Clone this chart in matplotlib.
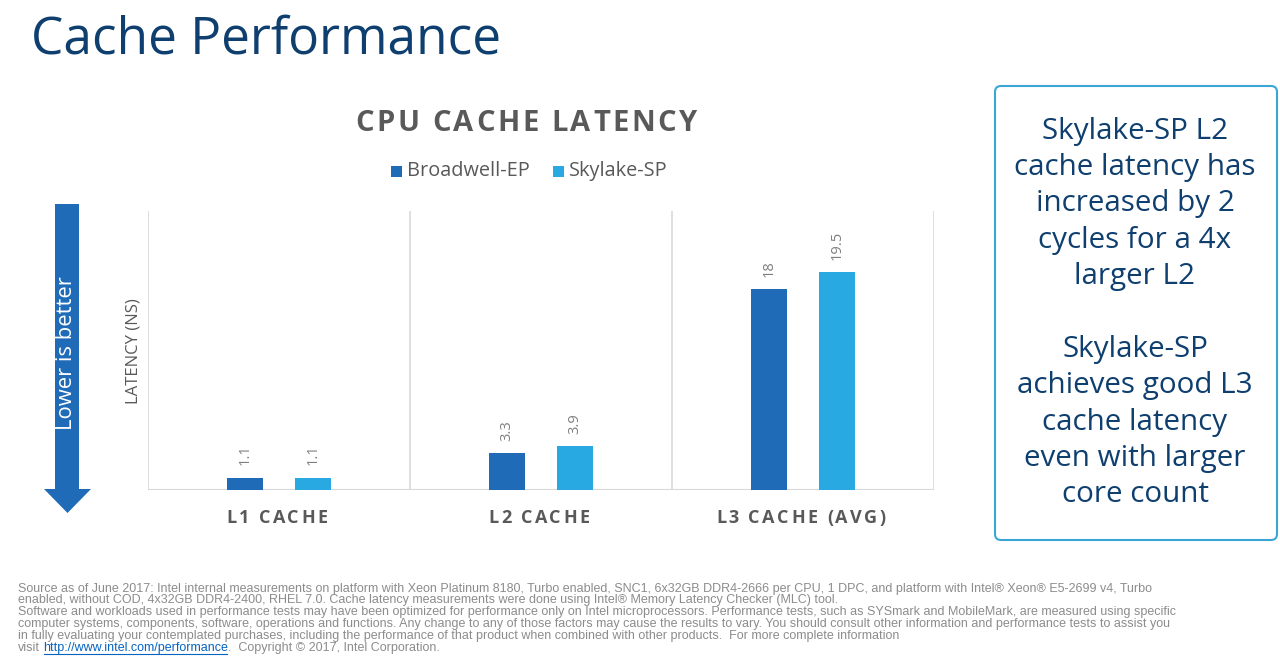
import matplotlib
matplotlib.use('Agg')
import matplotlib.pyplot as plt
from matplotlib.patches import FancyBboxPatch, Rectangle, Polygon
from matplotlib.transforms import IdentityTransform
from matplotlib.font_manager import FontProperties
from matplotlib.textpath import TextToPath

# ---------------- data ----------------
categories = ['L1 CACHE', 'L2 CACHE', 'L3 CACHE (AVG)']
series_names = ['Broadwell-EP', 'Skylake-SP']
broadwell = [1.1, 3.3, 18]
skylake = [1.1, 3.9, 19.5]
broadwell_labels = ['1.1', '3.3', '18']
skylake_labels = ['1.1', '3.9', '19.5']

title = 'Cache Performance'
chart_title = 'CPU CACHE LATENCY'
y_label = 'LATENCY (NS)'
arrow_text = 'Lower is better'
box_lines = ['Skylake-SP L2', 'cache latency has', 'increased by 2', 'cycles for a 4x',
             'larger L2', '', 'Skylake-SP', 'achieves good L3', 'cache latency',
             'even with larger', 'core count']
footnote_lines = [
    'Source as of June 2017: Intel internal measurements on platform with Xeon Platinum 8180, Turbo enabled, SNC1, 6x32GB DDR4-2666 per CPU, 1 DPC, and platform with Intel\u00ae Xeon\u00ae E5-2699 v4, Turbo',
    'enabled, without COD, 4x32GB DDR4-2400, RHEL 7.0. Cache latency measurements were done using Intel\u00ae Memory Latency Checker (MLC) tool.',
    'Software and workloads used in performance tests may have been optimized for performance only on Intel microprocessors. Performance tests, such as SYSmark and MobileMark, are measured using specific',
    'computer systems, components, software, operations and functions. Any change to any of those factors may cause the results to vary. You should consult other information and performance tests to assist you',
    'in fully evaluating your contemplated purchases, including the performance of that product when combined with other products.  For more complete information',
]
foot_visit = 'visit'
foot_link = 'http://www.intel.com/performance'
foot_tail = '.  Copyright \u00a9 2017, Intel Corporation.'

# ---------------- style ----------------
W, H, DPI = 1280, 659, 100
C_BW = '#1F6BB8'
C_SK = '#29A9E1'
C_NAVY = '#0E3F6E'
C_GRAY = '#595959'
C_LGRAY = '#7F7F7F'
C_FOOT = '#8C8C8C'
C_GRID = '#D9D9D9'
SANS = ['Open Sans', 'DejaVu Sans']
NARROW = ['Liberation Sans Narrow', 'Liberation Sans', 'DejaVu Sans']

fig = plt.figure(figsize=(W / DPI, H / DPI), dpi=DPI)
fig.patch.set_facecolor('white')


def fx(x):
    return x / W


def fy(y):
    return 1 - y / H


ttp = TextToPath()


def char_adv(ch, prop):
    w1 = ttp.get_text_width_height_descent('x' + ch + 'x', prop, ismath=False)[0]
    w0 = ttp.get_text_width_height_descent('xx', prop, ismath=False)[0]
    return (w1 - w0) * DPI / 72.0


def spaced_text(xc, y_base, s, size, spacing, color, weight='bold'):
    prop = FontProperties(family=SANS, weight=weight, size=size)
    widths = [char_adv(ch, prop) for ch in s]
    total = sum(widths) + spacing * (len(s) - 1)
    x = xc - total / 2
    for ch, w in zip(s, widths):
        fig.text(fx(x), fy(y_base), ch, fontproperties=prop, color=color,
                 ha='left', va='baseline')
        x += w + spacing


# ---------------- title ----------------
fig.text(fx(31), fy(53), title, fontsize=37, family=SANS, color=C_NAVY,
         ha='left', va='baseline')

# ---------------- chart ----------------
ax = fig.add_axes([fx(148), fy(490), (934 - 148) / W, (490 - 211) / H])
n = len(categories)
xs = list(range(n))
bw = 0.137
off = 0.13
b1 = ax.bar([x - off for x in xs], broadwell, width=bw, color=C_BW, label=series_names[0], zorder=3)
b2 = ax.bar([x + off for x in xs], skylake, width=bw, color=C_SK, label=series_names[1], zorder=3)
for bars, labs in ((b1, broadwell_labels), (b2, skylake_labels)):
    for rect, lab in zip(bars, labs):
        ax.annotate(lab, (rect.get_x() + rect.get_width() / 2, rect.get_height()),
                    xytext=(0, 9), textcoords='offset points', rotation=90,
                    ha='center', va='bottom', fontsize=10.5, color=C_LGRAY, family=SANS)
ax.set_xlim(-0.5, n - 0.5)
ax.set_ylim(0, 25)
ax.vlines([i - 0.5 for i in range(n + 1)], 0, 25, colors=C_GRID, lw=1.2, zorder=1)
for s in ax.spines.values():
    s.set_visible(False)
ax.axhline(0, color=C_GRID, lw=1.5, zorder=2)
ax.set_xticks([])
ax.set_yticks([])
ax.patch.set_alpha(0)

# category labels (letter-spaced, bold)
for i, cat in enumerate(categories):
    xc = 148 + (i + 0.5) * (934 - 148) / n
    spaced_text(xc - 2, 523, cat, 13, 2.4, C_GRAY)

# chart title
spaced_text(526, 131, chart_title, 21, 2.6, C_GRAY)

# y label
fig.text(fx(134), fy(351), y_label, rotation=90, fontsize=12, family=SANS,
         color=C_GRAY, ha='center', va='center')

# legend
leg_items = [(391, series_names[0], C_BW), (553, series_names[1], C_SK)]
for x0, name, col in leg_items:
    fig.patches.append(Rectangle((x0, H - 177), 11, 11, transform=IdentityTransform(),
                                 facecolor=col, edgecolor='none'))
    fig.text(fx(x0 + 16), fy(171), name, fontsize=14.3, family=SANS, color=C_GRAY,
             ha='left', va='center')

# ---------------- arrow ----------------
fig.patches.append(Rectangle((55, H - 490), 24, 286, transform=IdentityTransform(),
                             facecolor=C_BW, edgecolor='none'))
fig.patches.append(Polygon([(44, H - 489), (91, H - 489), (67.5, H - 513)], closed=True,
                           transform=IdentityTransform(), facecolor=C_BW, edgecolor='none'))
fig.text(fx(67), fy(353), arrow_text, rotation=90, fontsize=15.8, family=SANS,
         color='white', ha='center', va='center')

# ---------------- right box ----------------
fig.patches.append(FancyBboxPatch((999, H - 536), 274, 446,
                                  boxstyle='round,pad=4,rounding_size=6',
                                  transform=IdentityTransform(), facecolor='white',
                                  edgecolor='#3AA6D6', lw=1.5))
y0, dy = 131, 36.4
for k, line in enumerate(box_lines):
    if line:
        fig.text(fx(1135), fy(y0 + k * dy), line, fontsize=21.3, family=SANS,
                 color=C_NAVY, ha='center', va='center')

# ---------------- footnote ----------------
fprop = FontProperties(family=NARROW, size=9.0)
foot_y = [589, 600.5, 612, 624, 636]
for y, line in zip(foot_y, footnote_lines):
    fig.text(fx(18), fy(y), line, fontproperties=fprop, color=C_FOOT, ha='left', va='center')
renderer = fig.canvas.get_renderer()
t1 = fig.text(fx(18), fy(648), foot_visit, fontproperties=fprop, color=C_FOOT,
              ha='left', va='center')
x1 = t1.get_window_extent(renderer).x1
sp = ttp.get_text_width_height_descent('x x', fprop, ismath=False)[0] - \
    ttp.get_text_width_height_descent('xx', fprop, ismath=False)[0]
x1 += sp * DPI / 72.0
t2 = fig.text(x1 / W, fy(648), foot_link, fontproperties=fprop, color='#0563C1',
              ha='left', va='center')
e2 = t2.get_window_extent(renderer)
fig.lines.append(plt.Line2D([x1 + 1, e2.x1 - 1], [H - 654, H - 654], transform=IdentityTransform(),
                            color='#0563C1', lw=0.8))
fig.text(e2.x1 / W, fy(648), foot_tail, fontproperties=fprop, color=C_FOOT,
         ha='left', va='center')

fig.savefig('out.png', dpi=DPI, facecolor='white')
